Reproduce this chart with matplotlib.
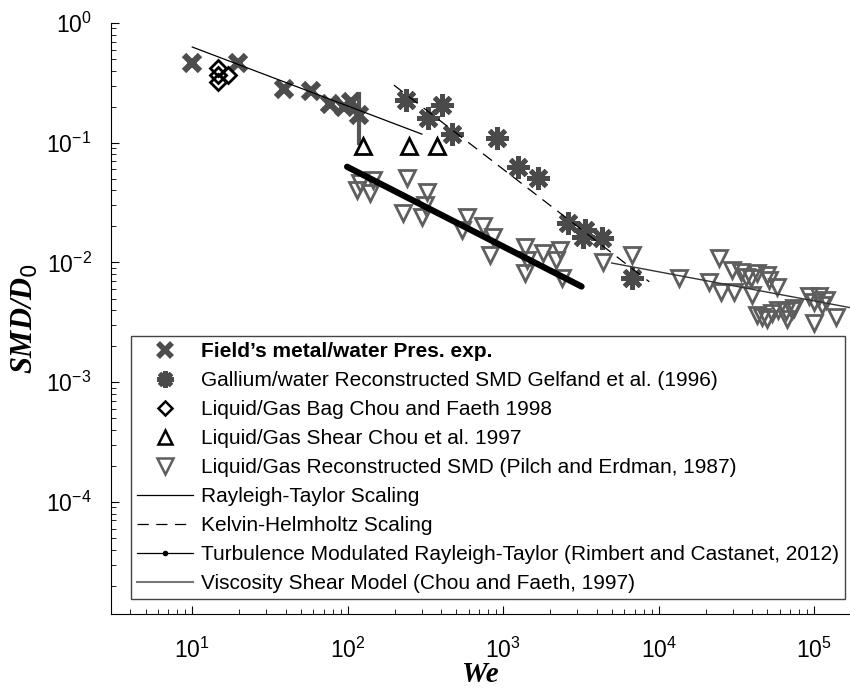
import matplotlib
matplotlib.use("Agg")
import matplotlib.pyplot as plt
from matplotlib.lines import Line2D

# Field's metal / water pressure experiments
fieldWe = [10, 19.7, 39, 58, 77, 95, 105, 118]
fieldSMD = [0.46, 0.46, 0.28, 0.27, 0.21, 0.20, 0.22, 0.17]
errWe = [118, 118]
errSMD = [0.10, 0.255]

# Gallium/water reconstructed SMD (Gelfand et al.)
galWe = [237, 327, 403, 467, 908, 1240, 1667, 2600, 3240, 3340, 4290, 6780]
galSMD = [0.227, 0.161, 0.207, 0.118, 0.110, 0.063, 0.051, 0.0214, 0.0163, 0.0187, 0.016, 0.0074]

# Chou and Faeth bag breakup
bagWe = [14.7, 14.7, 14.7, 17]
bagSMD = [0.42, 0.37, 0.32, 0.37]

# Chou et al. shear breakup
shearWe = [125, 247, 374]
shearSMD = [0.094, 0.094, 0.094]

# Pilch and Erdman reconstructed SMD
pilchWe = [115, 120, 139, 145, 226, 240, 300, 313, 322, 542, 583, 738, 818, 855,
           1374, 1374, 1415, 1795, 2200, 2308, 2377, 4355, 6685, 13600, 21200,
           24550, 25300, 29800, 30700, 34000, 36600, 39400, 40000, 43000, 49900,
           51200, 57800, 43000, 46300, 49900, 53700, 58600, 66000, 67000, 72300,
           74300, 93000, 100000, 107000, 112000, 119000, 100000, 138000]
pilchSMD = [0.040, 0.046, 0.038, 0.049, 0.026, 0.051, 0.024, 0.030, 0.039, 0.0187,
            0.024, 0.020, 0.0116, 0.0163, 0.0135, 0.0082, 0.0105, 0.012, 0.0105,
            0.0127, 0.0074, 0.0101, 0.0116, 0.0074, 0.0069, 0.011, 0.0057, 0.0087,
            0.0057, 0.0084, 0.0076, 0.0074, 0.0054, 0.0082, 0.0079, 0.0072, 0.0062,
            0.00365, 0.0035, 0.0034, 0.0038, 0.0040, 0.0039, 0.0034, 0.0040, 0.0042,
            0.0052, 0.0047, 0.0052, 0.0044, 0.0049, 0.0031, 0.0035]

# model lines (end points, straight in log-log)
rtWe = [10, 300]
rtSMD = [0.63, 0.118]
khWe = [198, 8700]
khSMD = [0.303, 0.0069]
tmrtWe = [99, 3190]
tmrtSMD = [0.063, 0.0063]
viscWe = [4980, 170000]
viscSMD = [0.0099, 0.0042]

labels = ["Field\u2019s metal/water Pres. exp.",
          "Gallium/water Reconstructed SMD Gelfand et al. (1996)",
          "Liquid/Gas Bag Chou and Faeth 1998",
          "Liquid/Gas Shear Chou et al. 1997",
          "Liquid/Gas Reconstructed SMD (Pilch and Erdman, 1987)",
          "Rayleigh-Taylor Scaling",
          "Kelvin-Helmholtz Scaling",
          "Turbulence Modulated Rayleigh-Taylor (Rimbert and Castanet, 2012)",
          "Viscosity Shear Model (Chou and Faeth, 1997)"]


def main():
    plt.rcParams['font.family'] = ['Liberation Sans', 'DejaVu Sans']
    fig = plt.figure(figsize=(8.5, 6.89), dpi=100)
    ax = fig.add_axes([0.1306, 0.1089, 0.8694, 0.8577])

    ax.plot(errWe, errSMD, color='#555555', lw=3, zorder=2)
    ax.plot(fieldWe, fieldSMD, ls='none', marker='x', ms=11, mew=4.5, color='#4d4d4d')
    ax.plot(galWe, galSMD, ls='none', marker=(8, 2, 0), ms=16, mew=3.5, color='#4a4a4a')
    ax.plot(bagWe, bagSMD, ls='none', marker='D', ms=8, mew=2, mfc='none', mec='black')
    ax.plot(shearWe, shearSMD, ls='none', marker='^', ms=11, mew=2, mfc='none', mec='black')
    ax.plot(pilchWe, pilchSMD, ls='none', marker='v', ms=12, mew=2, mfc='none', mec='#5e5e5e')

    ax.plot(rtWe, rtSMD, color='black', lw=0.9)
    ax.plot(khWe, khSMD, color='black', lw=0.9, dashes=(9, 6))
    ax.plot(tmrtWe, tmrtSMD, color='black', lw=4.5, solid_capstyle='round')
    ax.plot(viscWe, viscSMD, color='#333333', lw=1.0)

    # legend handles for the model lines
    h6 = Line2D([], [], color='black', lw=0.9)
    h7 = Line2D([], [], color='black', lw=0.9, dashes=(9, 6))
    h8 = Line2D([], [], color='black', lw=0.9, marker='.', ms=6, markevery=[1])
    h9 = Line2D([], [], color='#777777', lw=1.5)

    # smaller markers in the legend
    p1 = Line2D([], [], ls='none', marker='x', ms=10, mew=4, color='#4d4d4d')
    p2 = Line2D([], [], ls='none', marker=(8, 2, 0), ms=12, mew=3.5, color='#4a4a4a')
    p3 = Line2D([], [], ls='none', marker='D', ms=7, mew=1.8, mfc='none', mec='black')
    p4 = Line2D([], [], ls='none', marker='^', ms=10, mew=1.8, mfc='none', mec='black')
    p5 = Line2D([], [], ls='none', marker='v', ms=11, mew=1.8, mfc='none', mec='#5e5e5e')

    leg = ax.legend([p1, p2, p3, p4, p5, h6, h7, h8, h9], labels,
                    loc='lower left', bbox_to_anchor=(0.027, 0.025),
                    fontsize=15, handlelength=2.7, handletextpad=0.35,
                    labelspacing=0.48, borderpad=0.3, borderaxespad=0,
                    fancybox=False, framealpha=1, edgecolor='#444444')
    leg.get_frame().set_linewidth(1.0)
    leg.get_texts()[0].set_fontweight('bold')

    ax.set_xscale('log')
    ax.set_yscale('log')
    ax.set_xlim(3.0, 1.7e5)
    ax.set_ylim(1.16e-5, 1)
    ax.set_xticks([1e1, 1e2, 1e3, 1e4, 1e5])
    ax.set_yticks([1e0, 1e-1, 1e-2, 1e-3, 1e-4])

    ax.spines['top'].set_visible(False)
    ax.spines['right'].set_visible(False)
    ax.tick_params(which='both', direction='in', labelsize=16.5)
    ax.tick_params(which='major', length=6)
    ax.tick_params(which='minor', length=3.5)
    ax.tick_params(axis='x', pad=17)
    ax.tick_params(axis='y', pad=14)

    ax.set_xlabel('We', family='Liberation Serif', style='italic', weight='bold',
                  fontsize=21, labelpad=-1)
    ax.set_ylabel('SMD/D$_0$', family='Liberation Serif', style='italic', weight='bold',
                  fontsize=22, labelpad=4)

    fig.savefig('out.png', dpi=100)


if __name__ == "__main__":
    main()
